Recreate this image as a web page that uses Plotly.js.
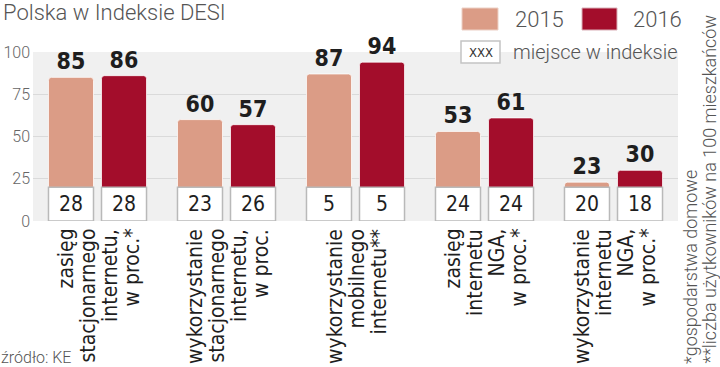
<!DOCTYPE html>
<html>
<head>
<meta charset="utf-8">
<script src="https://cdn.plot.ly/plotly-3.0.1.min.js"></script>
<style>html,body{margin:0;padding:0;background:#fff;}#chart{width:720px;height:367px;}</style>
</head>
<body>
<div id="chart"></div>
<script>
// ---- data ----
const categoryLines = [
  ['zasięg', 'stacjonarnego', 'internetu,', 'w proc.*'],
  ['wykorzystanie', 'stacjonarnego', 'internetu,', 'w proc.'],
  ['wykorzystanie', 'mobilnego', 'internetu**'],
  ['zasięg', 'internetu', 'NGA,', 'w proc.*'],
  ['wykorzystanie', 'internetu', 'NGA,', 'w proc.*']
];
const values2015 = [85, 60, 87, 53, 23];
const values2016 = [86, 57, 94, 61, 30];
const rank2015 = [28, 23, 5, 24, 20];
const rank2016 = [28, 26, 5, 24, 18];
const yTicks = [0, 25, 50, 75, 100];
const titleText = 'Polska w Indeksie DESI';
const sourceText = 'źródło: KE';
const footnotes = ['*gospodarstwa domowe', '**liczba użytkowników na 100 mieszkańców'];
const legendYears = ['2015', '2016'];
const legendRankText = 'miejsce w indeksie';

// ---- styles ----
const C2015 = '#db9c86', C2016 = '#a30d2b';
const LIGHT = 'Roboto, "DejaVu Sans", sans-serif';
const COND = '"DejaVu Sans Condensed", sans-serif';
const W = 720, H = 367, L = 33, R = 42, T = 52, B = 146;
const pw = W - L - R, ph = H - T - B;
const fx = X => (X - L) / pw;
const fy = Y => (H - B - Y) / ph;
const BOX_H = 20;

const cats = categoryLines.map(l => l.join(' '));

function valueTrace(name, vals, group, color) {
  return {
    type: 'bar', name: name, x: cats, y: vals, offsetgroup: group,
    marker: {color: color, cornerradius: 3, line: {color: 'rgba(255,255,255,0.75)', width: 1}},
    texttemplate: '%{y}', textposition: 'outside', cliponaxis: false, constraintext: 'none',
    outsidetextfont: {family: COND, size: 23, color: '#1e1e1e', weight: 'bold'},
    hoverinfo: 'skip', showlegend: false
  };
}
function rankTrace(ranks, group) {
  return {
    type: 'bar', x: cats, y: ranks.map(() => BOX_H), offsetgroup: group,
    marker: {color: '#ffffff', cornerradius: 4, line: {color: '#b9b9b9', width: 1.5}},
    text: ranks.map(String), textposition: 'inside', insidetextanchor: 'middle', constraintext: 'none',
    insidetextfont: {family: COND, size: 21, color: '#1e1e1e'},
    hoverinfo: 'skip', showlegend: false
  };
}

const data = [
  valueTrace('2015', values2015, 'a', C2015),
  valueTrace('2016', values2016, 'b', C2016),
  rankTrace(rank2015, 'a'),
  rankTrace(rank2016, 'b')
];

const annotations = [];
const LINE = 22;
categoryLines.forEach((lines, ci) => {
  const n = lines.length;
  lines.forEach((t, i) => {
    annotations.push({
      x: cats[ci], xref: 'x', y: 0, yref: 'y', yshift: -6,
      xshift: (i - (n - 1) / 2) * LINE + 1,
      xanchor: 'center', yanchor: 'top', textangle: -90, showarrow: false,
      text: t, font: {family: COND, size: 21, color: '#1e1e1e'}
    });
  });
});
annotations.push({xref: 'paper', yref: 'paper', x: fx(1), y: fy(12.5), xanchor: 'left', yanchor: 'middle',
  showarrow: false, text: titleText, font: {family: LIGHT, size: 22, color: '#555', weight: 300}});
annotations.push({xref: 'paper', yref: 'paper', x: fx(-1), y: fy(357), xanchor: 'left', yanchor: 'middle',
  showarrow: false, text: sourceText, font: {family: LIGHT, size: 16, color: '#555', weight: 300}});
[690, 709].forEach((X, i) => annotations.push({xref: 'paper', yref: 'paper', x: fx(X), y: fy(366),
  xanchor: 'center', yanchor: 'bottom', textangle: -90, showarrow: false, text: footnotes[i],
  font: {family: LIGHT, size: 18, color: '#555', weight: 300}}));
[513, 631].forEach((X, i) => annotations.push({xref: 'paper', yref: 'paper', x: fx(X), y: fy(19.5),
  xanchor: 'left', yanchor: 'middle', showarrow: false, text: legendYears[i],
  font: {family: LIGHT, size: 22, color: '#555', weight: 300}}));
annotations.push({xref: 'paper', yref: 'paper', x: fx(480.5), y: fy(52), xanchor: 'center', yanchor: 'middle',
  showarrow: false, text: 'XXX', font: {family: COND, size: 13, color: '#333'}});
annotations.push({xref: 'paper', yref: 'paper', x: fx(511), y: fy(52), xanchor: 'left', yanchor: 'middle',
  showarrow: false, text: legendRankText, font: {family: LIGHT, size: 20, color: '#555', weight: 300}});

const shapes = [
  {type: 'rect', xref: 'paper', yref: 'paper', x0: fx(462), x1: fx(498), y0: fy(30), y1: fy(8),
   fillcolor: C2015, line: {color: '#ecd0c5', width: 1}},
  {type: 'rect', xref: 'paper', yref: 'paper', x0: fx(582), x1: fx(617), y0: fy(30), y1: fy(8),
   fillcolor: C2016, line: {color: '#d9b0b8', width: 1}},
  {type: 'rect', xref: 'paper', yref: 'paper', x0: fx(461), x1: fx(500), y0: fy(63), y1: fy(41),
   fillcolor: '#ffffff', line: {color: '#c4c4c4', width: 1.5}}
];

const layout = {
  width: W, height: H,
  margin: {l: L, r: R, t: T, b: B, pad: 0},
  paper_bgcolor: '#ffffff', plot_bgcolor: '#f0f0f0',
  barmode: 'group', bargap: 0.178, bargroupgap: 0.151,
  showlegend: false,
  xaxis: {type: 'category', range: [-0.5, 4.5], showticklabels: false, showgrid: false,
    zeroline: false, showline: false, ticks: '', fixedrange: true},
  yaxis: {range: [0, 100], tickvals: yTicks, ticktext: yTicks.map(String), showgrid: true,
    gridcolor: '#dadada', gridwidth: 1, zeroline: false, showline: false, ticks: '',
    ticklabelstandoff: 2,
    tickfont: {family: LIGHT, size: 16, color: '#666', weight: 300}, fixedrange: true},
  annotations: annotations, shapes: shapes
};

Plotly.newPlot('chart', data, layout, {displayModeBar: false, staticPlot: true});
</script>
</body>
</html>
